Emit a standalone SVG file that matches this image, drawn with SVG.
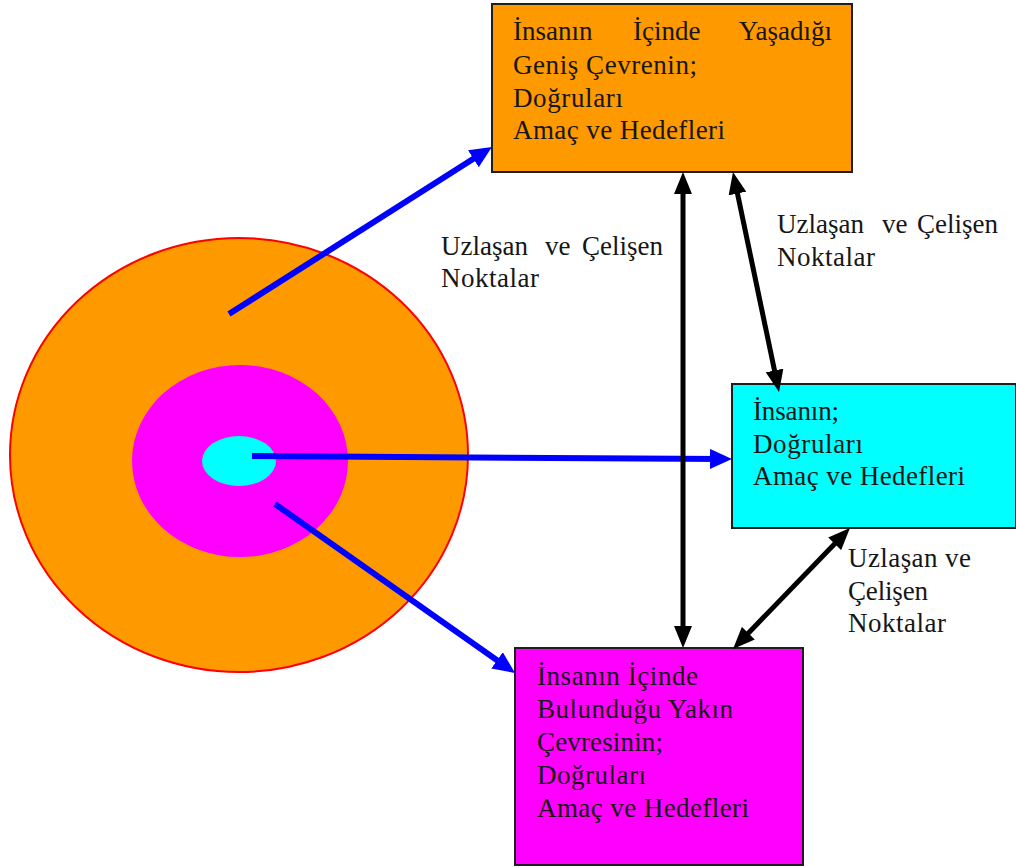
<svg xmlns="http://www.w3.org/2000/svg" width="1016" height="868" viewBox="0 0 1016 868">
<style>
.t{font-family:"Liberation Serif","DejaVu Serif",serif;font-size:27px;fill:#161616}
.box{stroke:#1e1e1e;stroke-width:2}
.bl{stroke:#0000FF;stroke-width:6;fill:none;marker-end:url(#ab)}
.bk{stroke:#000;stroke-width:5;fill:none;marker-start:url(#ak);marker-end:url(#ak)}
</style>
<defs>
<marker id="ab" markerUnits="userSpaceOnUse" markerWidth="24" markerHeight="20" refX="14" refY="10" orient="auto"><path d="M0,0 L22,10 L0,20 z" fill="#0000FF"/></marker>
<marker id="ak" markerUnits="userSpaceOnUse" markerWidth="24" markerHeight="20" refX="14" refY="10" orient="auto-start-reverse"><path d="M0,1 L22,10 L0,19 z" fill="#000"/></marker>
</defs>
<rect width="1016" height="868" fill="#fff"/>
<g id="circles">
<ellipse cx="239" cy="455" rx="229" ry="217" fill="#FF9900" stroke="#FF0000" stroke-width="2"/>
<ellipse cx="240" cy="461" rx="108" ry="96" fill="#FF00FF"/>
<ellipse cx="239" cy="461" rx="37" ry="25" fill="#00FFFF"/>
</g>
<g id="node-wide">
<rect class="box" x="492" y="4" width="360" height="168" fill="#FF9900"/>
<text class="t"><tspan x="513" y="40">İnsanın</tspan><tspan x="633" y="40">İçinde</tspan><tspan x="832" y="40" text-anchor="end">Yaşadığı</tspan></text>
<text class="t" x="513" y="74" textLength="184">Geniş Çevrenin;</text>
<text class="t" x="513" y="107" textLength="110">Doğruları</text>
<text class="t" x="513" y="139" textLength="212">Amaç ve Hedefleri</text>
</g>
<g id="node-person">
<rect class="box" x="732" y="384" width="284" height="144" fill="#00FFFF"/>
<text class="t" x="753" y="420" textLength="86">İnsanın;</text>
<text class="t" x="753" y="453" textLength="110">Doğruları</text>
<text class="t" x="753" y="485" textLength="212">Amaç ve Hedefleri</text>
</g>
<g id="node-near">
<rect class="box" x="515" y="648" width="288" height="217" fill="#FF00FF"/>
<text class="t" x="537" y="685" textLength="161">İnsanın İçinde</text>
<text class="t" x="537" y="718" textLength="196">Bulunduğu Yakın</text>
<text class="t" x="537" y="751" textLength="126">Çevresinin;</text>
<text class="t" x="537" y="784" textLength="109">Doğruları</text>
<text class="t" x="537" y="817" textLength="212">Amaç ve Hedefleri</text>
</g>
<g id="connectors">
<line class="bl" x1="229" y1="314" x2="485.2" y2="151.3"/>
<line class="bl" x1="252" y1="456" x2="724" y2="459"/>
<line class="bl" x1="275" y1="504" x2="508.5" y2="668.4"/>
<line class="bk" x1="683" y1="180" x2="683" y2="640"/>
<line class="bk" x1="734.6" y1="179.8" x2="777.4" y2="384.2"/>
<line class="bk" x1="844.4" y1="533.8" x2="738.6" y2="643.2"/>
</g>
<g id="labels">
<text class="t"><tspan x="441" y="255">Uzlaşan</tspan><tspan x="545" y="255">ve</tspan><tspan x="663" y="255" text-anchor="end">Çelişen</tspan></text>
<text class="t" x="441" y="287" textLength="98">Noktalar</text>
<text class="t"><tspan x="777" y="233">Uzlaşan</tspan><tspan x="882" y="233">ve</tspan><tspan x="998" y="233" text-anchor="end">Çelişen</tspan></text>
<text class="t" x="777" y="266" textLength="98">Noktalar</text>
<text class="t" x="848" y="567" textLength="123">Uzlaşan ve</text>
<text class="t" x="848" y="600" textLength="80">Çelişen</text>
<text class="t" x="848" y="632" textLength="98">Noktalar</text>
</g>
</svg>
